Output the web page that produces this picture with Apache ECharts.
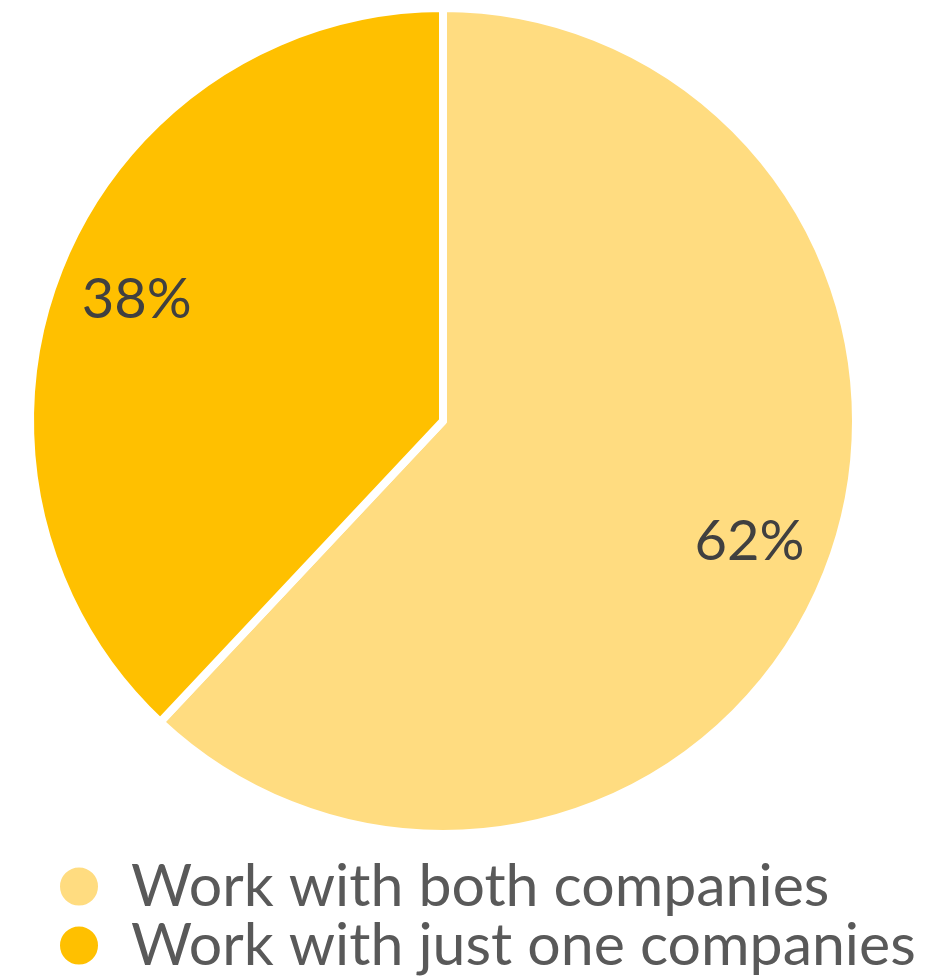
<!DOCTYPE html>
<html>
<head>
<meta charset="utf-8">
<script src="https://cdn.jsdelivr.net/npm/echarts@6/dist/echarts.min.js"></script>
<style>
  html, body { margin: 0; padding: 0; background: #ffffff; }
  #chart { width: 934px; height: 978px; }
</style>
</head>
<body>
<div id="chart"></div>
<script>
// Share of respondents by how many companies they work with
const categories = ['Work with both companies', 'Work with just one companies'];
const shares = [62, 38];
const sliceColors = ['#FFDC80', '#FFC000'];

const FONT = 'Lato, "Open Sans", sans-serif';

const pieData = categories.map((name, i) => ({
  name: name,
  value: shares[i],
  itemStyle: { color: sliceColors[i] }
}));

const chart = echarts.init(document.getElementById('chart'), null, { renderer: 'canvas' });

chart.setOption({
  backgroundColor: '#ffffff',
  animation: false,
  legend: {
    orient: 'vertical',
    left: 58,
    bottom: 3,
    padding: 0,
    icon: 'circle',
    itemWidth: 40,
    itemHeight: 40,
    itemGap: 0,
    data: categories,
    textStyle: {
      fontFamily: FONT,
      fontSize: 59,
      lineHeight: 40,
      color: '#595959',
      padding: [0, 0, 0, 27]
    }
  },
  series: [
    {
      // filled slices
      type: 'pie',
      center: [443, 421],
      radius: [0, 413],
      startAngle: 90,
      clockwise: true,
      silent: true,
      data: pieData,
      itemStyle: { borderColor: '#ffffff', borderWidth: 8 },
      label: { show: false },
      labelLine: { show: false }
    },
    {
      // percentage labels, placed on a transparent ring near the rim
      type: 'pie',
      center: [443, 421],
      radius: [240, 413],
      startAngle: 90,
      clockwise: true,
      silent: true,
      legendHoverLink: false,
      data: categories.map((name, i) => ({
        name: name,
        value: shares[i],
        itemStyle: { color: 'rgba(0,0,0,0)' }
      })),
      label: {
        show: true,
        position: 'inside',
        formatter: p => p.value + '%',
        fontFamily: FONT,
        fontSize: 56,
        color: '#404040'
      },
      labelLine: { show: false }
    }
  ]
});
</script>
</body>
</html>
